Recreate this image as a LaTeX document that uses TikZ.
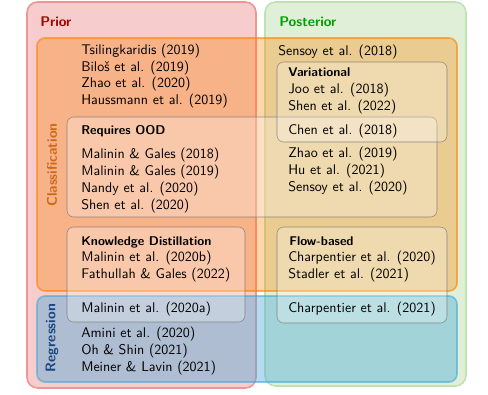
\documentclass[tikz,border=0pt]{standalone}
\usepackage{xcolor}
\usepackage{tikz}
\usetikzlibrary{positioning}

\definecolor{priorfill}{RGB}{246,204,204}
\definecolor{priorline}{RGB}{238,150,150}
\definecolor{postfill}{RGB}{224,240,216}
\definecolor{postline}{RGB}{192,226,178}
\definecolor{clsfill}{RGB}{255,128,0}
\definecolor{regfill}{RGB}{68,168,218}
\definecolor{priortext}{RGB}{170,0,0}
\definecolor{posttext}{RGB}{0,160,0}
\definecolor{clstext}{RGB}{205,105,25}
\definecolor{regtext}{RGB}{25,70,130}

\begin{document}
\begin{tikzpicture}[
    x=0.75pt, y=-0.75pt,
    font=\sffamily\fontsize{10.5}{12.55}\selectfont,
    outer/.style={rounded corners=8pt, line width=1.2pt},
    region/.style={rounded corners=6pt, line width=1.2pt, fill opacity=0.33, draw opacity=0.6},
    group/.style={rounded corners=5pt, fill=white, fill opacity=0.28, draw=black!55, draw opacity=0.8, line width=0.4pt},
    ref/.style={anchor=base west, inner sep=0pt, align=left},
    head/.style={anchor=base west, inner sep=0pt, font=\sffamily\fontsize{9.5}{11}\selectfont\bfseries},
    side/.style={inner sep=0pt, rotate=90, font=\sffamily\fontsize{10.5}{12}\selectfont\bfseries}
]
    \useasboundingbox (0,0) rectangle (488,394);

    % Prior / Posterior
    \draw[outer, fill=priorfill, draw=priorline] (27,2) rectangle (256,388);
    \draw[outer, fill=postfill, draw=postline] (265,2) rectangle (466,386);
    \node[head, font=\sffamily\fontsize{10.5}{12}\selectfont\bfseries, text=priortext] (prior) at (40,26) {Prior};
    \node[head, font=\sffamily\fontsize{10.5}{12}\selectfont\bfseries, text=posttext] (posterior) at (279,26) {Posterior};

    % Classification / Regression
    \draw[region, fill=clsfill, draw=orange] (37,38) rectangle (457,291);
    \draw[region, fill=regfill, fill opacity=0.4, draw=regfill] (37,296) rectangle (457,382);
    \node[side, text=clstext] (classification) at (52,165) {Classification};
    \node[side, text=regtext] (regression) at (52,338) {Regression};

    % Groups
    \draw[group] (67,117) rectangle (437,217);
    \draw[group] (277,62) rectangle (447,142);
    \draw[group] (67,227) rectangle (245,322);
    \draw[group] (277,227) rectangle (447,323);

    % Prior references (anchored at the last line)
    \node[ref] (priorcls) at (81,104.5) {Tsilingkaridis (2019)\\Bilo\v{s} et al. (2019)\\Zhao et al. (2020)\\Haussmann et al. (2019)};
    \node[head] (ood) at (81,134) {Requires OOD};
    \node[ref] (priorood) at (81,209) {Malinin \& Gales (2018)\\Malinin \& Gales (2019)\\Nandy et al. (2020)\\Shen et al. (2020)};
    \node[head] (distill) at (81,245) {Knowledge Distillation};
    \node[ref] (priordistill) at (81,278.5) {Malinin et al. (2020b)\\Fathullah \& Gales (2022)};
    \node[ref] (priorboth) at (81,312) {Malinin et al. (2020a)};
    \node[ref] (priorreg) at (81,371) {Amini et al. (2020)\\Oh \& Shin (2021)\\Meiner \& Lavin (2021)};

    % Posterior references
    \node[ref] (postcls) at (278,55) {Sensoy et al. (2018)};
    \node[head] (variational) at (288,76) {Variational};
    \node[ref] (postvar) at (288,110) {Joo et al. (2018)\\Shen et al. (2022)};
    \node[ref] (postvarood) at (288,134) {Chen et al. (2018)};
    \node[ref] (postood) at (288,191) {Zhao et al. (2019)\\Hu et al. (2021)\\Sensoy et al. (2020)};
    \node[head] (flow) at (289,245) {Flow-based};
    \node[ref] (postflow) at (288,278.5) {Charpentier et al. (2020)\\Stadler et al. (2021)};
    \node[ref] (postboth) at (288,312) {Charpentier et al. (2021)};
\end{tikzpicture}
\end{document}
